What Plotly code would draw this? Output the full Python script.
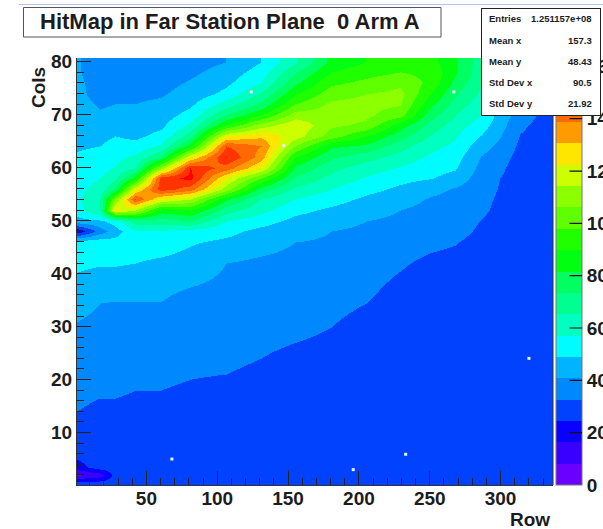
import plotly.graph_objects as go

# Sampled hit-map surface: values are read band by band from the picture and
# expressed in colour-band units (one band = 8.16 on the colour axis).
ROW_NODES = [1, 17, 28, 42, 60, 81, 106, 131, 155, 180, 205, 229, 251, 268, 286, 300, 314, 337]
COL_NODES = [0.5, 2, 3.5, 6, 12, 18, 24, 30, 36, 42, 46, 48, 50, 52, 54, 56, 58, 60, 62, 64, 66, 68, 70, 72, 74, 76, 78, 80]

R001 = [3.5, 0.9, 2.6, 3.3, 3.9, 4.2, 4.5, 4.9, 5.5, 6.2, 6.6, 2.2, 5.6, 6.6, 6.8, 6.7, 6.5, 6.3, 6.1, 5.9, 5.7, 5.5, 5.4, 5.3, 5.2, 5.2, 5.1, 5.1]
R017 = [3.5, 1.5, 3.5, 3.5, 3.7, 4.1, 4.4, 4.7, 5.1, 6.1, 6.6, 4.5, 5.8, 8.0, 8.0, 7.4, 7.0, 6.6, 6.3, 6.0, 5.7, 5.4, 5.1, 4.9, 4.7, 4.6, 4.5, 4.5]
R028 = [3.5, 3.4, 3.5, 3.5, 3.7, 4.1, 4.3, 4.6, 5.1, 6.1, 6.4, 5.5, 6.5, 15.5, 13.0, 9.0, 7.8, 7.1, 6.7, 6.4, 6.0, 5.6, 5.3, 5.0, 4.7, 4.6, 4.5, 4.4]
R042 = [3.5, 3.5, 3.5, 3.5, 3.7, 4.0, 4.3, 4.6, 5.1, 6.0, 6.5, 6.9, 8.5, 14.0, 18.0, 15.0, 10.5, 8.0, 7.2, 6.3, 5.8, 5.5, 5.3, 5.0, 4.8, 4.6, 4.4, 4.4]
R060 = [3.5, 3.5, 3.5, 3.5, 3.6, 4.0, 4.3, 4.6, 5.1, 5.8, 6.5, 6.9, 8.5, 10.5, 15.0, 18.5, 18.5, 13.5, 9.0, 7.2, 6.3, 5.8, 5.5, 5.2, 4.9, 4.7, 4.5, 4.4]
R081 = [3.5, 3.5, 3.5, 3.5, 3.6, 3.9, 4.2, 4.5, 4.8, 5.6, 6.1, 6.6, 9.0, 11.0, 14.0, 17.5, 19.3, 19.0, 15.0, 10.5, 8.5, 7.2, 6.4, 5.8, 5.4, 5.1, 4.8, 4.6]
R106 = [3.5, 3.5, 3.5, 3.5, 3.5, 3.8, 4.2, 4.5, 4.7, 5.0, 5.8, 6.3, 7.0, 8.5, 10.2, 13.5, 15.0, 17.5, 19.0, 18.0, 15.0, 11.0, 9.0, 7.5, 6.3, 5.8, 5.4, 5.0]
R131 = [3.5, 3.5, 3.5, 3.5, 3.4, 3.6, 4.0, 4.3, 4.6, 4.8, 5.4, 5.7, 6.4, 7.3, 8.0, 9.6, 12.0, 15.0, 16.5, 17.0, 15.8, 13.5, 11.0, 9.2, 8.2, 7.0, 6.5, 6.0]
R155 = [3.5, 3.5, 3.5, 3.4, 3.3, 3.5, 3.8, 4.2, 4.5, 4.7, 5.0, 5.3, 5.7, 6.3, 7.0, 7.8, 8.9, 9.8, 11.0, 13.0, 14.5, 14.8, 13.5, 12.0, 10.9, 9.8, 8.9, 7.8]
R180 = [3.5, 3.5, 3.5, 3.4, 3.3, 3.5, 3.7, 4.0, 4.3, 4.6, 4.9, 5.0, 5.4, 5.8, 6.4, 7.0, 7.7, 8.3, 9.2, 10.2, 12.5, 13.2, 13.5, 13.2, 12.6, 11.8, 11.0, 10.3]
R205 = [3.5, 3.5, 3.4, 3.3, 3.2, 3.3, 3.5, 3.7, 4.1, 4.4, 4.7, 4.8, 5.0, 5.4, 5.8, 6.3, 6.9, 7.5, 8.4, 9.8, 11.0, 12.8, 13.2, 13.3, 13.0, 12.3, 11.6, 11.0]
R229 = [3.5, 3.5, 3.4, 3.2, 3.1, 3.2, 3.3, 3.5, 3.7, 4.1, 4.4, 4.6, 4.8, 5.0, 5.4, 5.8, 6.3, 6.9, 7.6, 8.4, 9.4, 10.5, 12.4, 13.1, 13.3, 12.8, 12.0, 11.5]
R251 = [3.5, 3.5, 3.3, 3.2, 3.1, 3.2, 3.3, 3.4, 3.5, 3.8, 4.2, 4.4, 4.6, 4.7, 4.9, 5.3, 6.05, 6.4, 6.8, 7.3, 7.9, 8.6, 9.4, 10.2, 11.0, 11.7, 11.7, 11.3]
R268 = [3.5, 3.5, 3.3, 3.2, 3.1, 3.1, 3.2, 3.3, 3.4, 3.7, 4.05, 4.3, 4.4, 4.5, 4.7, 4.9, 5.6, 6.1, 6.4, 6.8, 7.1, 7.5, 8.0, 8.6, 9.1, 9.7, 10.2, 10.2]
R286 = [3.5, 3.5, 3.3, 3.2, 3.1, 3.1, 3.1, 3.2, 3.3, 3.5, 3.7, 3.85, 3.97, 4.2, 4.3, 4.4, 4.5, 4.7, 4.95, 5.4, 5.95, 6.5, 7.0, 7.4, 7.8, 8.1, 8.3, 8.4]
R300 = [3.5, 3.5, 3.3, 3.2, 3.1, 3.1, 3.1, 3.1, 3.2, 3.3, 3.4, 3.5, 3.6, 3.7, 3.8, 3.9, 3.97, 4.15, 4.4, 4.7, 5.0, 5.3, 5.5, 6.0, 6.5, 6.8, 7.0, 7.1]
R314 = [3.5, 3.5, 3.3, 3.2, 3.1, 3.1, 3.1, 3.1, 3.1, 3.1, 3.2, 3.2, 3.3, 3.3, 3.4, 3.4, 3.5, 3.5, 3.6, 3.8, 3.95, 4.2, 4.5, 5.0, 5.3, 5.5, 5.6, 5.7]
R337 = [3.5, 3.5, 3.4, 3.4, 3.4, 3.4, 3.4, 3.4, 3.4, 3.4, 3.4, 3.4, 3.4, 3.4, 3.4, 3.4, 3.4, 3.4, 3.4, 3.4, 3.4, 3.4, 3.5, 3.5, 3.6, 3.6, 3.7, 3.7]
BY_ROW = [R001, R017, R028, R042, R060, R081, R106, R131, R155, R180, R205, R229, R251, R268, R286, R300, R314, R337]

BAND_WIDTH = 8.16
BAND_COLORS = ["#6a00ff", "#3a00ff", "#0a00ff", "#0042ff", "#0088ff", "#00b4ff", "#00fcff", "#00ffc0",
               "#00ff90", "#00ff60", "#00ff10", "#20ff00", "#60ff00", "#8cff00", "#ccff00", "#ffe600",
               "#ff9a00", "#ff6a00", "#ff3400", "#ff0000"]

# Empty bins (white specks)
EMPTY_ROWS = [124, 147, 267, 320, 233, 196, 68]
EMPTY_COLS = [74.3, 64.2, 74.3, 24, 5.9, 3, 5]

TITLE = "HitMap in Far Station Plane  0 Arm A"
STATS_LABELS = ["Entries", "Mean x", "Mean y", "Std Dev x", "Std Dev y"]
STATS_VALUES = ["1.251157e+08", "157.3", "48.43", "90.5", "21.92"]
COLORBAR_TICKS = [20, 40, 60, 80, 100, 120, 140]

z = [[BY_ROW[i][j] * BAND_WIDTH for i in range(len(ROW_NODES))] for j in range(len(COL_NODES))]
n = len(BAND_COLORS)
zmax = n * BAND_WIDTH
scale = []
for k, c in enumerate(BAND_COLORS):
    scale += [[k / n, c], [(k + 1) / n, c]]

W, H = 603, 529
L, R, T, B = 77, 553, 58, 485
FONT = "Liberation Sans"
INK = "#1c1c1c"


def fx(px):
    return (px - L) / (R - L)


def fy(py):
    return 1 - (py - T) / (B - T)


fig = go.Figure()
fig.add_trace(go.Heatmap(
    x=ROW_NODES, y=COL_NODES, z=z, zsmooth="best", colorscale=scale, zmin=0, zmax=zmax,
    hoverinfo="skip",
    colorbar=dict(
        x=1 + 3 / (R - L), xanchor="left", xpad=0, y=0, yanchor="bottom", ypad=0,
        thickness=26, thicknessmode="pixels", len=B - T, lenmode="pixels",
        tick0=0, dtick=20, ticks="", ticklabelposition="outside",
        tickfont=dict(family=FONT, size=19, color=INK, weight=700),
        outlinecolor="#777", outlinewidth=1, borderwidth=0,
    ),
))
fig.add_trace(go.Scatter(
    x=EMPTY_ROWS, y=EMPTY_COLS, mode="markers", hoverinfo="skip", showlegend=False,
    marker=dict(symbol="square", size=3, color="#e8f4ff", line=dict(width=0)),
))

axis_common = dict(
    showgrid=False, zeroline=False, showline=True, linecolor="#333", linewidth=1,
    ticks="inside", ticklen=14, tickcolor="#222", tickwidth=1,
    tickfont=dict(family=FONT, size=19, color=INK, weight=700),
)
fig.update_layout(
    width=W, height=H, autosize=False, margin=dict(l=L, r=W - R, t=T, b=H - B, autoexpand=False),
    paper_bgcolor="white", plot_bgcolor="white", showlegend=False,
    xaxis=dict(range=[1, 337], tick0=0, dtick=50, automargin=False, ticklabelstandoff=-4,
               minor=dict(dtick=10, ticks="inside", ticklen=7, tickcolor="#222", tickwidth=1, showgrid=False),
               **axis_common),
    yaxis=dict(range=[0.1, 80.7], tick0=0, dtick=10, automargin=False,
               minor=dict(dtick=2, ticks="inside", ticklen=7, tickcolor="#222", tickwidth=1, showgrid=False),
               **axis_common),
)

shapes = [
    dict(type="line", xref="paper", yref="paper", x0=fx(19), x1=fx(W), y0=fy(4.5), y1=fy(4.5),
         line=dict(color="#b4c6e8", width=1)),
    dict(type="line", xref="paper", yref="paper", x0=fx(R), x1=fx(R), y0=fy(T), y1=fy(B),
         line=dict(color="#333", width=1)),
    dict(type="rect", xref="paper", yref="paper", x0=fx(23.5), x1=fx(441), y0=fy(7.5), y1=fy(37),
         line=dict(color="#555", width=1), fillcolor="white"),
]
fig.update_layout(shapes=shapes)

ann = [
    dict(text="<b>%s</b>" % TITLE, x=fx(230), y=fy(22), xref="paper", yref="paper", showarrow=False,
         xanchor="center", yanchor="middle", font=dict(family=FONT, size=22, color=INK)),
    dict(text="<b>Cols</b>", x=fx(39), y=fy(88), xref="paper", yref="paper", showarrow=False, textangle=-90,
         xanchor="center", yanchor="middle", font=dict(family=FONT, size=19, color=INK)),
    dict(text="<b>Row</b>", x=fx(552), y=fy(519), xref="paper", yref="paper", showarrow=False,
         xanchor="right", yanchor="middle", font=dict(family=FONT, size=19, color=INK)),
]
# colour-bar tick marks, drawn over the bar at the value positions
for v in COLORBAR_TICKS:
    ann.append(dict(text="", x=fx(582), y=v / zmax, xref="paper", yref="paper", showarrow=True,
                    ax=-14, ay=0, arrowhead=0, arrowwidth=1.2, arrowcolor="#111", standoff=0, startstandoff=0))
# stats box: a blank annotation so that it sits over the colour bar
ann.append(dict(text=" ", x=fx(481), y=fy(7.5), xref="paper", yref="paper", showarrow=False, xanchor="left",
                yanchor="top", width=118, height=106, bgcolor="white", bordercolor="#222", borderwidth=1,
                borderpad=0, font=dict(size=9)))
for i, (lab, val) in enumerate(zip(STATS_LABELS, STATS_VALUES)):
    py = 19 + i * 21.2
    ann.append(dict(text="<b>%s</b>" % lab, x=fx(487), y=fy(py), xref="paper", yref="paper", showarrow=False,
                    xanchor="left", yanchor="middle", font=dict(family=FONT, size=9.5, color=INK)))
    ann.append(dict(text="<b>%s</b>" % val, x=fx(593.5), y=fy(py), xref="paper", yref="paper", showarrow=False,
                    xanchor="right", yanchor="middle", font=dict(family=FONT, size=9.5, color=INK)))
fig.update_layout(annotations=ann)

fig.write_html("out.html", config={"displayModeBar": False},
               post_script="document.body.style.margin='0';document.body.style.overflow='hidden';")
